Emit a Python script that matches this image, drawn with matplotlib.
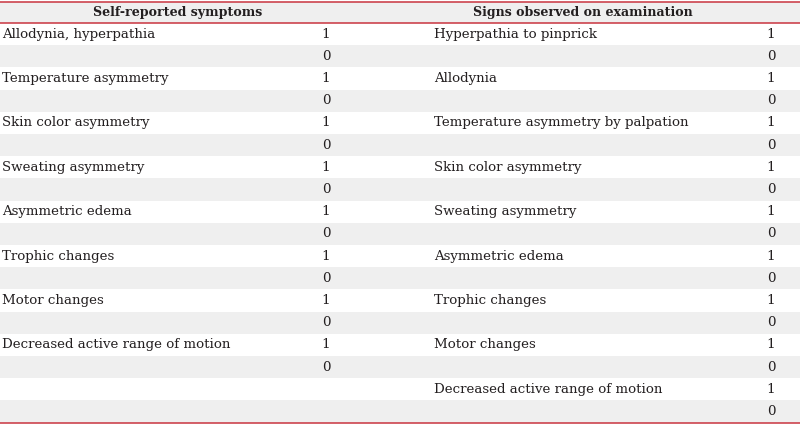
import matplotlib.pyplot as plt
from matplotlib.patches import Rectangle

headers = ["Self-reported symptoms", "Signs observed on examination"]
self_reported = ["Allodynia, hyperpathia", "Temperature asymmetry", "Skin color asymmetry",
                 "Sweating asymmetry", "Asymmetric edema", "Trophic changes",
                 "Motor changes", "Decreased active range of motion"]
signs = ["Hyperpathia to pinprick", "Allodynia", "Temperature asymmetry by palpation",
         "Skin color asymmetry", "Sweating asymmetry", "Asymmetric edema",
         "Trophic changes", "Motor changes", "Decreased active range of motion"]
codes = ["1", "0"]

W, H = 800, 425
red = "#c9343f"
shade = "#efefef"
ink = "#231f20"
fam = "DejaVu Serif"
fs = 9.6

fig = plt.figure(figsize=(8, 4.25), dpi=100)
ax = fig.add_axes([0, 0, 1, 1])
ax.set_xlim(0, W)
ax.set_ylim(H, 0)
ax.axis("off")

top = 1.5
head_h = 21.5
row_h = 22.2
nrows = 2 * max(len(self_reported), len(signs))
y0 = top + head_h

# header band and shaded rows
ax.add_patch(Rectangle((0, top), W, head_h, color=shade, lw=0))
for i in range(nrows):
    if i % 2 == 1:
        ax.add_patch(Rectangle((0, y0 + i * row_h), W, row_h, color=shade, lw=0))

for y in [top, y0, y0 + nrows * row_h]:
    ax.plot([0, W], [y, y], color=red, lw=1.1)

ax.text(177.5, top + head_h / 2, headers[0], ha="center", va="center",
        family=fam, fontsize=9.1, fontweight="bold", color=ink)
ax.text(583, top + head_h / 2, headers[1], ha="center", va="center",
        family=fam, fontsize=9.1, fontweight="bold", color=ink)

cols = [(self_reported, 2, 326), (signs, 434, 771)]
for items, xl, xv in cols:
    for k, name in enumerate(items):
        for j, c in enumerate(codes):
            yc = y0 + (2 * k + j + 0.5) * row_h
            if j == 0:
                ax.text(xl, yc, name, ha="left", va="center", family=fam,
                        fontsize=fs, color=ink)
            ax.text(xv, yc, c, ha="center", va="center", family=fam,
                    fontsize=fs, color=ink)

fig.savefig("out.png", dpi=100)
